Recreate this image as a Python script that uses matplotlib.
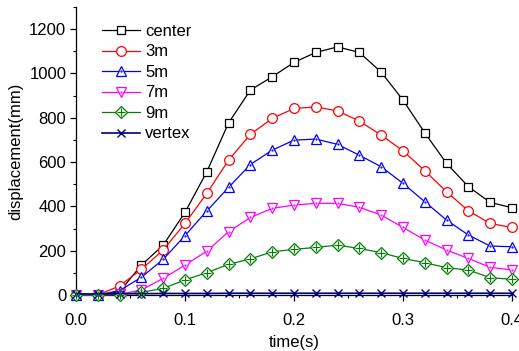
import matplotlib
matplotlib.use("Agg")
import matplotlib.pyplot as plt
from matplotlib.ticker import MultipleLocator, FormatStrFormatter

plt.rcParams['font.family'] = ['Liberation Sans', 'DejaVu Sans']

t = [0.00, 0.02, 0.04, 0.06, 0.08, 0.10, 0.12, 0.14, 0.16, 0.18, 0.20,
     0.22, 0.24, 0.26, 0.28, 0.30, 0.32, 0.34, 0.36, 0.38, 0.40]
center = [0, 0, 15, 135, 225, 373, 556, 777, 925, 985, 1050,
          1095, 1120, 1095, 1006, 880, 732, 594, 489, 418, 394]
m3 = [0, 0, 41, 116, 203, 323, 459, 609, 725, 797, 842,
      849, 831, 785, 722, 651, 561, 466, 380, 323, 305]
m5 = [0, 0, 20, 80, 161, 268, 379, 486, 589, 654, 699,
      704, 680, 631, 579, 504, 421, 338, 271, 221, 218]
m7 = [0, 0, 3, 23, 75, 135, 198, 286, 350, 391, 406,
      414, 414, 396, 361, 305, 248, 203, 165, 125, 113]
m9 = [0, 0, 2, 12, 30, 68, 101, 138, 163, 195, 206,
      215, 225, 210, 191, 165, 146, 123, 113, 78, 71]
vertex = [5, 5, 6, 6, 7, 7, 7, 8, 8, 8, 8,
          8, 8, 8, 8, 8, 8, 8, 8, 8, 8]
labels = ['center', '3m', '5m', '7m', '9m', 'vertex']

fig = plt.figure(figsize=(5.19, 3.51), dpi=100)
ax = fig.add_axes([0.1464, 0.1595, 0.8401, 0.8205])

lw = 0.9
ms = 6.2
handles = []
h, = ax.plot(t, center, color='black', lw=lw, marker='s', ms=ms, mfc='white',
             mec='black', mew=0.9, clip_on=False, zorder=3)
handles.append(h)
h, = ax.plot(t, m3, color='red', lw=lw, marker='o', ms=ms + 0.8, mfc='white',
             mec='red', mew=0.9, clip_on=False, zorder=3)
handles.append(h)
h1, = ax.plot(t, m5, color='blue', lw=lw, marker='^', ms=ms + 1, mfc='white',
              mec='blue', mew=0.9, clip_on=False, zorder=3)
h2, = ax.plot(t, m5, ls='none', marker='.', ms=1.2, color='blue', clip_on=False, zorder=4)
handles.append((h1, h2))
h1, = ax.plot(t, m7, color='magenta', lw=lw, marker='v', ms=ms + 1, mfc='white',
              mec='magenta', mew=0.9, clip_on=False, zorder=3)
h2, = ax.plot(t, m7, ls='none', marker='.', ms=1.2, color='magenta', clip_on=False, zorder=4)
handles.append((h1, h2))
h1, = ax.plot(t, m9, color='green', lw=lw, marker='D', ms=ms - 0.3, mfc='white',
              mec='green', mew=0.9, clip_on=False, zorder=3)
h2, = ax.plot(t, m9, ls='none', marker='+', ms=ms - 0.3, mew=0.8, color='green',
              clip_on=False, zorder=4)
handles.append((h1, h2))
h, = ax.plot(t, vertex, color='#000080', lw=lw + 0.3, marker='x', ms=ms, mew=1.0,
             mec='#000080', clip_on=False, zorder=3)
handles.append(h)

ax.set_xlim(0, 0.4)
ax.set_ylim(0, 1300)
ax.xaxis.set_major_locator(MultipleLocator(0.1))
ax.xaxis.set_minor_locator(MultipleLocator(0.05))
ax.xaxis.set_major_formatter(FormatStrFormatter('%.1f'))
ax.yaxis.set_major_locator(MultipleLocator(200))
ax.yaxis.set_minor_locator(MultipleLocator(100))
ax.spines['top'].set_visible(False)
ax.spines['right'].set_visible(False)
for s in ['left', 'bottom']:
    ax.spines[s].set_linewidth(0.9)
ax.tick_params(which='major', direction='out', length=4, width=0.9, labelsize=12)
ax.tick_params(axis='x', which='major', pad=9)
ax.tick_params(axis='y', which='major', pad=3)
ax.tick_params(which='minor', direction='out', length=2.5, width=0.8)

ax.set_xlabel('time(s)', fontsize=12, labelpad=5)
ax.set_ylabel('displacement(mm)', fontsize=12, labelpad=4)

ax.legend(handles, labels, loc='upper left', bbox_to_anchor=(0.032, 0.982),
          frameon=False, fontsize=12, handlelength=2.3, handletextpad=0.3,
          labelspacing=0.33, numpoints=1, borderaxespad=0.3)

fig.savefig('out.png', dpi=100)
